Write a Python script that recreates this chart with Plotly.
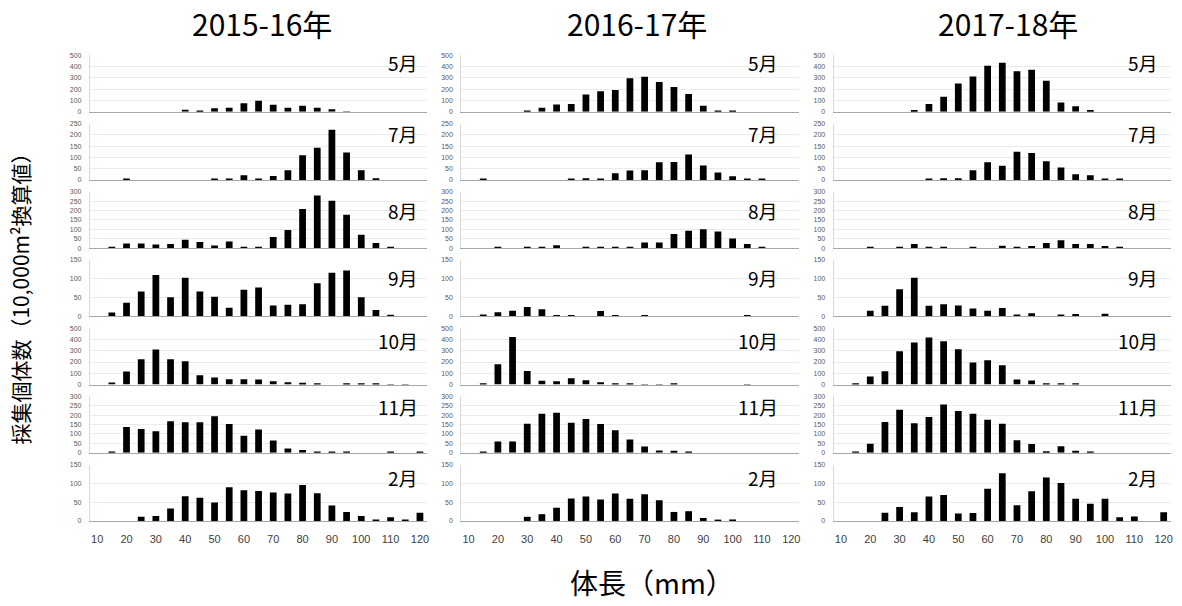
import plotly.graph_objects as go
from plotly.subplots import make_subplots

# ---------------- data ----------------
lengths = [10, 15, 20, 25, 30, 35, 40, 45, 50, 55, 60, 65, 70, 75, 80, 85, 90, 95, 100, 105, 110, 115, 120]
x_ticks = [10, 20, 30, 40, 50, 60, 70, 80, 90, 100, 110, 120]
seasons = ["2015-16年", "2016-17年", "2017-18年"]
months = ["5月", "7月", "8月", "9月", "10月", "11月", "2月"]
y_max = [500, 250, 300, 150, 500, 300, 150]
y_step = [100, 50, 50, 50, 100, 50, 50]

# 2015-16
s1516_may = [0, 0, 0, 0, 0, 0, 18, 8, 30, 36, 75, 97, 63, 36, 54, 36, 22, 3, 0, 0, 0, 0, 0]
s1516_jul = [0, 0, 3, 0, 0, 0, 0, 0, 3, 3, 21, 4, 18, 43, 110, 143, 223, 122, 43, 7, 0, 0, 0]
s1516_aug = [0, 3, 25, 25, 20, 22, 45, 33, 14, 35, 3, 5, 60, 97, 208, 280, 253, 178, 72, 28, 5, 0, 0]
s1516_sep = [0, 10, 36, 66, 110, 51, 103, 66, 52, 23, 71, 77, 29, 31, 32, 88, 116, 122, 51, 17, 4, 0, 0]
s1516_oct = [0, 18, 115, 225, 311, 225, 207, 83, 62, 47, 47, 44, 30, 20, 15, 8, 0, 8, 5, 8, 3, 3, 0]
s1516_nov = [0, 5, 137, 126, 115, 168, 163, 163, 195, 153, 90, 124, 65, 22, 15, 7, 3, 3, 0, 0, 3, 0, 3]
s1516_feb = [0, 0, 0, 11, 13, 33, 66, 62, 49, 90, 82, 80, 76, 73, 96, 74, 41, 24, 13, 4, 10, 4, 22]

# 2016-17
s1617_may = [0, 0, 0, 0, 5, 36, 65, 68, 152, 182, 193, 298, 310, 265, 220, 158, 54, 8, 4, 0, 0, 0, 0]
s1617_jul = [0, 5, 0, 0, 0, 0, 0, 3, 7, 4, 30, 42, 43, 79, 80, 113, 64, 33, 16, 3, 5, 0, 0]
s1617_aug = [0, 0, 5, 0, 3, 5, 16, 0, 3, 3, 3, 7, 30, 30, 75, 93, 101, 88, 52, 22, 3, 0, 0]
s1617_sep = [0, 5, 11, 15, 25, 19, 3, 3, 0, 14, 2, 0, 2, 0, 0, 0, 0, 0, 0, 2, 0, 0, 0]
s1617_oct = [0, 8, 180, 423, 121, 33, 30, 56, 38, 20, 10, 4, 3, 3, 4, 0, 0, 0, 0, 3, 0, 0, 0]
s1617_nov = [0, 5, 60, 60, 155, 208, 213, 160, 180, 153, 120, 70, 33, 12, 10, 3, 0, 0, 0, 0, 0, 0, 0]
s1617_feb = [0, 0, 0, 0, 11, 18, 35, 60, 65, 57, 73, 59, 71, 55, 24, 26, 8, 3, 4, 0, 0, 0, 0]

# 2017-18
s1718_may = [0, 0, 0, 0, 0, 15, 68, 134, 250, 312, 408, 435, 360, 372, 274, 83, 48, 15, 0, 0, 0, 0, 0]
s1718_jul = [0, 0, 0, 0, 0, 0, 5, 8, 7, 43, 79, 63, 125, 119, 83, 55, 25, 21, 2, 2, 0, 0, 0]
s1718_aug = [0, 0, 5, 0, 5, 22, 5, 3, 0, 3, 0, 13, 5, 12, 28, 42, 22, 22, 12, 4, 0, 0, 0]
s1718_sep = [0, 0, 15, 28, 72, 103, 28, 32, 29, 21, 15, 22, 5, 8, 0, 5, 6, 0, 7, 0, 0, 0, 0]
s1718_oct = [0, 5, 71, 118, 296, 373, 417, 385, 314, 195, 216, 172, 44, 36, 10, 8, 5, 0, 0, 0, 0, 0, 0]
s1718_nov = [0, 3, 48, 164, 229, 157, 190, 257, 222, 208, 176, 155, 66, 47, 8, 34, 10, 6, 0, 0, 0, 0, 0]
s1718_feb = [0, 0, 0, 22, 37, 23, 65, 69, 20, 21, 86, 127, 42, 79, 116, 101, 59, 46, 59, 10, 12, 0, 23]

columns = [
    [s1516_may, s1516_jul, s1516_aug, s1516_sep, s1516_oct, s1516_nov, s1516_feb],
    [s1617_may, s1617_jul, s1617_aug, s1617_sep, s1617_oct, s1617_nov, s1617_feb],
    [s1718_may, s1718_jul, s1718_aug, s1718_sep, s1718_oct, s1718_nov, s1718_feb],
]

# ---------------- layout geometry (page pixels) ----------------
W, H = 1182, 606
col_left = [90, 462, 835]
col_w = 338
row_top0 = 52
row_step = 69
row_h = 57
label_right = [421, 781, 1162]
label_cy = [59, 131, 209, 277, 340, 407, 479]
title_cx = [262, 638, 1010]

def px(x):
    return x / W

def py(y):
    return 1 - y / H

CJK = "Noto Sans CJK JP"
TICKF = "Liberation Sans"

fig = make_subplots(rows=7, cols=3)

for c in range(3):
    for r in range(7):
        idx = r * 3 + c + 1
        sfx = "" if idx == 1 else str(idx)
        fig.add_trace(
            go.Bar(x=lengths, y=columns[c][r], marker=dict(color="#000000", line=dict(width=0)),
                   hoverinfo="x+y"),
            row=r + 1, col=c + 1,
        )
        top = row_top0 + r * row_step
        bottom = top + row_h
        last = (r == 6)
        fig.layout["xaxis" + sfx].update(
            domain=[px(col_left[c]), px(col_left[c] + col_w)],
            range=[7.5, 122.5],
            tickmode="array", tickvals=x_ticks, ticktext=[str(v) for v in x_ticks],
            showticklabels=last,
            tickfont=dict(family=TICKF, size=11, color="#404040"),
            ticks="outside" if last else "", ticklen=8, tickcolor="rgba(0,0,0,0)",
            showgrid=False, zeroline=False,
            showline=True, linecolor="#a6a6a6", linewidth=1,
            fixedrange=True,
        )
        fig.layout["yaxis" + sfx].update(
            domain=[py(bottom), py(top)],
            range=[0, y_max[r]],
            tickmode="linear", tick0=0, dtick=y_step[r],
            tickfont=dict(family=TICKF, size=7, color="#595959"),
            ticks="outside", ticklen=6, tickcolor="rgba(0,0,0,0)",
            showgrid=True, gridcolor="#ebebeb", gridwidth=1,
            zeroline=False,
            showline=True, linecolor="#d9d9d9", linewidth=1,
            fixedrange=True,
        )
        fig.add_annotation(
            text=months[r], xref="paper", yref="paper",
            x=px(label_right[c]), y=py(label_cy[r]),
            xanchor="right", yanchor="middle", showarrow=False,
            font=dict(family=CJK, size=19, color="#000000"),
        )

for c in range(3):
    fig.add_annotation(
        text=seasons[c], xref="paper", yref="paper",
        x=px(title_cx[c]), y=py(19), xanchor="center", yanchor="middle",
        showarrow=False, font=dict(family=CJK, size=30, color="#000000"),
    )

fig.add_annotation(
    text="採集個体数（10,000m²換算値）", xref="paper", yref="paper",
    x=px(20), y=py(293), xanchor="center", yanchor="middle", textangle=-90,
    showarrow=False, font=dict(family=CJK, size=21, color="#000000"),
)
fig.add_annotation(
    text="体長（mm）", xref="paper", yref="paper",
    x=px(653), y=py(585), xanchor="center", yanchor="middle",
    showarrow=False, font=dict(family=CJK, size=28, color="#000000"),
)

fig.update_layout(
    width=W, height=H, margin=dict(l=0, r=0, t=0, b=0),
    paper_bgcolor="white", plot_bgcolor="white",
    showlegend=False, bargap=0.54,
)

fig.write_html(
    "out.html",
    config={"displayModeBar": False},
    post_script="document.body.style.margin='0';document.body.style.overflow='hidden';",
)
